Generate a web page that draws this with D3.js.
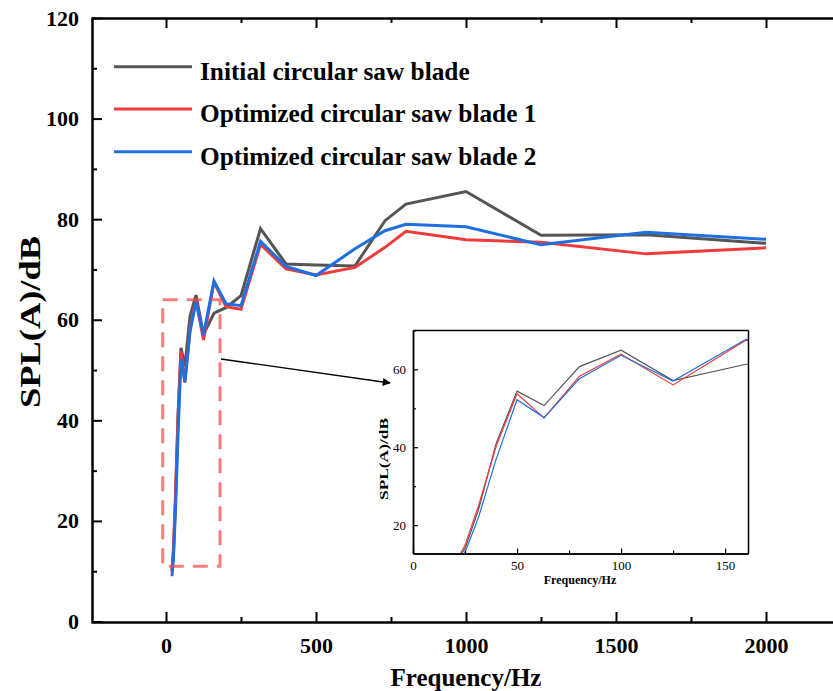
<!DOCTYPE html>
<html><head><meta charset="utf-8">
<script src="https://cdn.jsdelivr.net/npm/d3@7"></script>
<style>
body{margin:0;background:#fff;}
svg{display:block;font-family:"Liberation Serif","Times New Roman",serif;}
</style></head>
<body><svg id="c" width="833" height="691"></svg>
<script>
const frequencies = [20,25,31.5,40,50,63,80,100,125,160,200,250,315,400,500,630,730,800,1000,1250,1600,2000];
const initialBlade = [10,14,24,41,54.4,50.7,60.7,64.9,57.1,61.3,62.4,64.8,78.1,71.1,70.9,70.7,79.7,83.0,85.5,76.8,76.9,75.2];
const optimizedBlade1 = [10,14.8,25,40.3,53.7,47.5,58.2,63.9,56.0,67.5,62.6,62.1,75.0,70.1,68.9,70.4,74.4,77.6,75.9,75.4,73.1,74.3];
const optimizedBlade2 = [9,13,22,37,52.2,47.6,57.6,63.6,57.0,67.7,63.2,62.8,75.6,70.6,68.8,74.1,77.7,79.0,78.5,74.9,77.4,76.0];
const seriesNames = ["Initial circular saw blade","Optimized circular saw blade 1","Optimized circular saw blade 2"];
const seriesColors = ["#555555","#ef3b3b","#1f6fe0"];
const xTicks = [0,500,1000,1500,2000];
const yTicks = [0,20,40,60,80,100,120];
const insetXTicks = [0,50,100,150];
const insetYTicks = [20,40,60];
const zoomBox = {x0:-11, x1:180, y0:11, y1:64};

const seriesData = [initialBlade, optimizedBlade1, optimizedBlade2];
const svg = d3.select("#c");
const F = '"Liberation Serif","Times New Roman",serif';
const fmt = d3.format("d");

// main scales
const x = d3.scaleLinear().domain([-250,2250]).range([91,841]);
const y = d3.scaleLinear().domain([0,120]).range([621.5,18]);

const main = svg.append("g");
main.append("clipPath").attr("id","mclip").append("rect").attr("x",91).attr("y",18).attr("width",750).attr("height",604);

// lines
const line = (xs, ys) => d3.line().x((d,i)=>xs(frequencies[i])).y(d=>ys(d));
const lg = main.append("g").attr("clip-path","url(#mclip)");
seriesData.forEach((s,k)=>{
  lg.append("path").datum(s).attr("d",line(x,y)).attr("fill","none")
    .attr("stroke",seriesColors[k]).attr("stroke-width",3).attr("stroke-linejoin","miter");
});

// dashed zoom box
main.append("rect").attr("x",x(zoomBox.x0)).attr("y",y(zoomBox.y1))
  .attr("width",x(zoomBox.x1)-x(zoomBox.x0)).attr("height",y(zoomBox.y0)-y(zoomBox.y1))
  .attr("fill","none").attr("stroke","#f04848").attr("stroke-opacity",0.7)
  .attr("stroke-width",3).attr("stroke-dasharray","15,9");

// axes
function styleAxis(g){ g.select(".domain").attr("stroke","#000").attr("stroke-width",2);
  g.selectAll(".tick line").attr("stroke","#000").attr("stroke-width",2);
  g.selectAll("text").attr("font-family",F).attr("font-weight","bold").attr("font-size",22).attr("fill","#000"); }

main.append("g").attr("transform","translate(0,622)")
  .call(d3.axisBottom(x).tickValues(xTicks).tickFormat(fmt).tickSize(-10).tickPadding(15).tickSizeOuter(0)).call(styleAxis);
main.append("g").attr("transform","translate(0,622)")
  .call(d3.axisBottom(x).tickValues([250,750,1250,1750]).tickSize(-5).tickFormat("").tickSizeOuter(0)).call(styleAxis);
main.append("g").attr("transform","translate(0,18)")
  .call(d3.axisTop(x).tickValues(xTicks).tickSize(-10).tickFormat("").tickSizeOuter(0)).call(styleAxis);
main.append("g").attr("transform","translate(0,18)")
  .call(d3.axisTop(x).tickValues([250,750,1250,1750]).tickSize(-5).tickFormat("").tickSizeOuter(0)).call(styleAxis);
main.append("g").attr("transform","translate(92,0)")
  .call(d3.axisLeft(y).tickValues(yTicks).tickFormat(fmt).tickSize(-10).tickPadding(13).tickSizeOuter(0)).call(styleAxis);
main.append("g").attr("transform","translate(92,0)")
  .call(d3.axisLeft(y).tickValues([10,30,50,70,90,110]).tickSize(-5).tickFormat("").tickSizeOuter(0)).call(styleAxis);

// axis titles
svg.append("text").attr("x",466).attr("y",686).attr("text-anchor","middle")
  .attr("font-family",F).attr("font-weight","bold").attr("font-size",25).text("Frequency/Hz");
svg.append("text").attr("transform","translate(40,322) rotate(-90)").attr("text-anchor","middle")
  .attr("font-family",F).attr("font-weight","bold").attr("font-size",29)
  .attr("textLength",172).attr("lengthAdjust","spacingAndGlyphs").text("SPL(A)/dB");

// legend
const legend = svg.append("g");
const legendY = [66.7,109,151.7];
seriesNames.forEach((n,k)=>{
  legend.append("line").attr("x1",114).attr("x2",192).attr("y1",legendY[k]).attr("y2",legendY[k])
    .attr("stroke",seriesColors[k]).attr("stroke-width",3);
  legend.append("text").attr("x",200).attr("y",legendY[k]+13)
    .attr("font-family",F).attr("font-weight","bold").attr("font-size",25.3).text(n);
});

// arrow
const defs = svg.append("defs");
defs.append("marker").attr("id","ah").attr("viewBox","0 0 10 10").attr("refX",9).attr("refY",5)
  .attr("markerWidth",10).attr("markerHeight",8).attr("markerUnits","userSpaceOnUse").attr("orient","auto")
  .append("path").attr("d","M0,0L10,5L0,10Z").attr("fill","#000");
svg.append("line").attr("x1",221).attr("y1",359).attr("x2",390).attr("y2",383)
  .attr("stroke","#000").attr("stroke-width",1.3).attr("marker-end","url(#ah)");

// inset
const ix = d3.scaleLinear().domain([0,161]).range([413,748]);
const iy = d3.scaleLinear().domain([12.7,70.1]).range([553.5,330]);
const inset = svg.append("g");
inset.append("rect").attr("x",413).attr("y",330).attr("width",335).attr("height",223.5).attr("fill","#fff");
inset.append("clipPath").attr("id","iclip").append("rect").attr("x",413).attr("y",330).attr("width",335).attr("height",223.5);
const ig = inset.append("g").attr("clip-path","url(#iclip)");
seriesData.forEach((s,k)=>{
  ig.append("path").datum(s).attr("d",line(ix,iy)).attr("fill","none")
    .attr("stroke",seriesColors[k]).attr("stroke-width",1.2);
});
function styleInset(g){ g.select(".domain").attr("stroke","#000").attr("stroke-width",1.5);
  g.selectAll(".tick line").attr("stroke","#000").attr("stroke-width",1.2);
  g.selectAll("text").attr("font-family",F).attr("font-size",13).attr("fill","#000"); }
inset.append("g").attr("transform","translate(0,553.5)")
  .call(d3.axisBottom(ix).tickValues(insetXTicks).tickSize(-5).tickPadding(7).tickSizeOuter(0)).call(styleInset);
inset.append("g").attr("transform","translate(0,553.5)")
  .call(d3.axisBottom(ix).tickValues([25,75,125]).tickSize(-3).tickFormat("").tickSizeOuter(0)).call(styleInset);
inset.append("g").attr("transform","translate(413,0)")
  .call(d3.axisLeft(iy).tickValues(insetYTicks).tickSize(-5).tickPadding(7).tickSizeOuter(0)).call(styleInset);
inset.append("g").attr("transform","translate(413,0)")
  .call(d3.axisLeft(iy).tickValues([30,50,70]).tickSize(-3).tickFormat("").tickSizeOuter(0)).call(styleInset);
inset.append("g").attr("transform","translate(0,330)")
  .call(d3.axisTop(ix).tickValues([]).tickSizeOuter(0)).call(styleInset);
inset.append("g").attr("transform","translate(748,0)")
  .call(d3.axisRight(iy).tickValues([]).tickSizeOuter(0)).call(styleInset);
inset.append("text").attr("x",580).attr("y",584).attr("text-anchor","middle")
  .attr("font-family",F).attr("font-weight","bold").attr("font-size",12).text("Frequency/Hz");
inset.append("text").attr("transform","translate(388,459) rotate(-90)").attr("text-anchor","middle")
  .attr("font-family",F).attr("font-weight","bold").attr("font-size",12.5)
  .attr("textLength",82).attr("lengthAdjust","spacingAndGlyphs").text("SPL(A)/dB");
</script></body></html>
